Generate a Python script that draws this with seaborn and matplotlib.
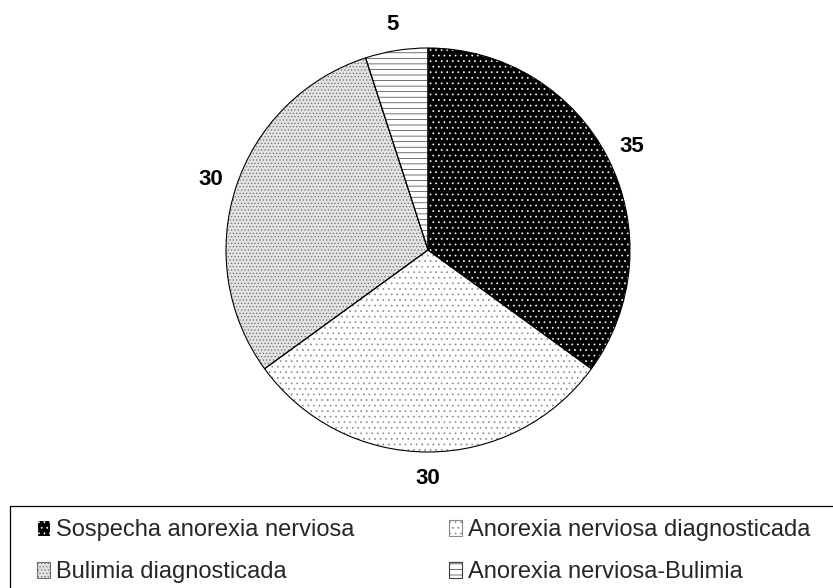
import matplotlib
matplotlib.use("Agg")
import matplotlib.pyplot as plt
import matplotlib.patches as mpatches
import seaborn as sns

sns.set_theme(style="white")
plt.rcParams['font.family'] = ['Liberation Sans', 'DejaVu Sans']
plt.rcParams['hatch.linewidth'] = 0.5

# Data
categories = ["Sospecha anorexia nerviosa", "Anorexia nerviosa diagnosticada",
              "Bulimia diagnosticada", "Anorexia nerviosa-Bulimia"]
values = [35, 30, 30, 5]
value_labels = ["35", "30", "30", "5"]

# Styles
face_colors = ["#000000", "#ffffff", "#e2e2e2", "#ffffff"]
hatch_colors = ["#ffffff", "#8a8a8a", "#6e6e6e", "#3a3a3a"]
hatches = ["...", "...", ".....", "---"]

W, H = 833, 588
fig = plt.figure(figsize=(W / 100, H / 100), dpi=100)
fig.patch.set_facecolor("white")

cx, cy, r = 428, 250, 202
ax = fig.add_axes([(cx - r) / W, (H - cy - r) / H, 2 * r / W, 2 * r / H])

# fill layer with hatches
wedges, texts = ax.pie(values, labels=value_labels, startangle=90, counterclock=False,
                       labeldistance=1.13, radius=1,
                       wedgeprops=dict(linewidth=0),
                       textprops=dict(fontsize=16, fontweight="bold", color="black"))
for w, fc, hc, h in zip(wedges, face_colors, hatch_colors, hatches):
    w.set_facecolor(fc)
    w.set_edgecolor(hc)
    w.set_hatch(h)
for t in texts:
    t.set_ha("center")
    t.set_va("center")

# outline layer
ax.pie(values, startangle=90, counterclock=False, radius=1,
       wedgeprops=dict(fill=False, edgecolor="black", linewidth=0.8))
ax.set_xlim(-1.0, 1.0)
ax.set_ylim(-1.0, 1.0)
ax.set_axis_off()

# legend (row-major order like the reference)
handles = [mpatches.Patch(facecolor=fc, edgecolor=hc, hatch=h, linewidth=0.8)
           for fc, hc, h in zip(face_colors, hatch_colors, hatches)]
order = [0, 2, 1, 3]
top = 1 - 506 / H
fig.legend(handles=[handles[i] for i in order], labels=[categories[i] for i in order],
           ncol=2, loc="upper left",
           bbox_to_anchor=(30 / W, top - 6 / H), borderaxespad=0, frameon=False,
           fontsize=17, handlelength=0.55, handleheight=0.65, handletextpad=0.25,
           columnspacing=4.0, labelspacing=0.85, borderpad=0.3)
frame = mpatches.Rectangle((10 / W, -0.2), 2.0, top + 0.2, transform=fig.transFigure,
                           fill=False, edgecolor="black", linewidth=0.9, clip_on=False)
fig.patches.append(frame)

fig.savefig("out.png", dpi=100)
